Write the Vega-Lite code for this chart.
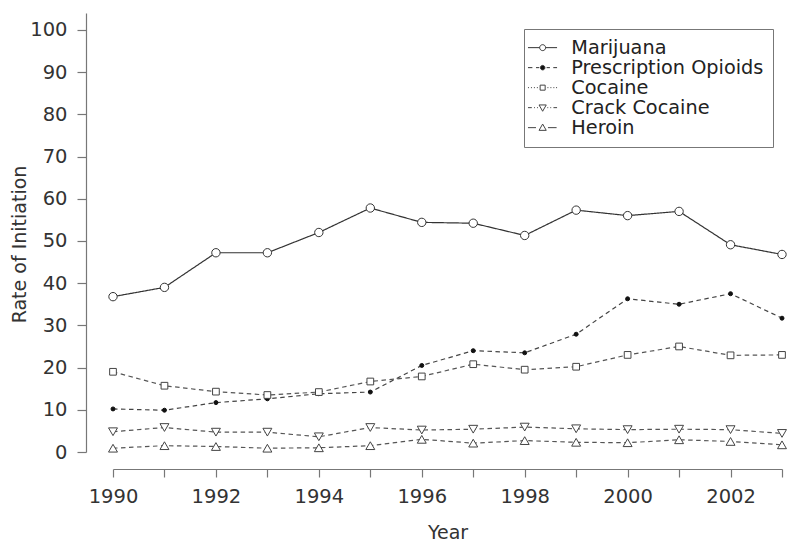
{
  "$schema": "https://vega.github.io/schema/vega-lite/v6.json",
  "width": 669,
  "height": 439,
  "autosize": "none",
  "padding": {"left": 113, "top": 13, "right": 18, "bottom": 103},
  "background": "white",
  "config": {
    "font": "DejaVu Sans",
    "view": {"stroke": null},
    "axis": {
      "grid": false,
      "domainColor": "#777",
      "tickColor": "#777",
      "domainWidth": 1.2,
      "tickWidth": 1.2,
      "labelColor": "#333",
      "titleColor": "#333",
      "labelFont": "DejaVu Sans",
      "titleFont": "DejaVu Sans",
      "labelFontSize": 19.5,
      "titleFontSize": 19,
      "titleFontWeight": "normal"
    }
  },
  "data": {
    "values": [
      {"year": 1990, "drug": "Marijuana", "rate": 36.8},
      {"year": 1991, "drug": "Marijuana", "rate": 39.0},
      {"year": 1992, "drug": "Marijuana", "rate": 47.2},
      {"year": 1993, "drug": "Marijuana", "rate": 47.2},
      {"year": 1994, "drug": "Marijuana", "rate": 52.0},
      {"year": 1995, "drug": "Marijuana", "rate": 57.8},
      {"year": 1996, "drug": "Marijuana", "rate": 54.4},
      {"year": 1997, "drug": "Marijuana", "rate": 54.2},
      {"year": 1998, "drug": "Marijuana", "rate": 51.3},
      {"year": 1999, "drug": "Marijuana", "rate": 57.3},
      {"year": 2000, "drug": "Marijuana", "rate": 56.0},
      {"year": 2001, "drug": "Marijuana", "rate": 57.0},
      {"year": 2002, "drug": "Marijuana", "rate": 49.1},
      {"year": 2003, "drug": "Marijuana", "rate": 46.8},
      {"year": 1990, "drug": "Prescription Opioids", "rate": 10.2},
      {"year": 1991, "drug": "Prescription Opioids", "rate": 9.9},
      {"year": 1992, "drug": "Prescription Opioids", "rate": 11.7},
      {"year": 1993, "drug": "Prescription Opioids", "rate": 12.6},
      {"year": 1994, "drug": "Prescription Opioids", "rate": 13.8},
      {"year": 1995, "drug": "Prescription Opioids", "rate": 14.2},
      {"year": 1996, "drug": "Prescription Opioids", "rate": 20.5},
      {"year": 1997, "drug": "Prescription Opioids", "rate": 24.0},
      {"year": 1998, "drug": "Prescription Opioids", "rate": 23.5},
      {"year": 1999, "drug": "Prescription Opioids", "rate": 27.9},
      {"year": 2000, "drug": "Prescription Opioids", "rate": 36.3},
      {"year": 2001, "drug": "Prescription Opioids", "rate": 35.0},
      {"year": 2002, "drug": "Prescription Opioids", "rate": 37.5},
      {"year": 2003, "drug": "Prescription Opioids", "rate": 31.7},
      {"year": 1990, "drug": "Cocaine", "rate": 19.0},
      {"year": 1991, "drug": "Cocaine", "rate": 15.7},
      {"year": 1992, "drug": "Cocaine", "rate": 14.3},
      {"year": 1993, "drug": "Cocaine", "rate": 13.5},
      {"year": 1994, "drug": "Cocaine", "rate": 14.2},
      {"year": 1995, "drug": "Cocaine", "rate": 16.7},
      {"year": 1996, "drug": "Cocaine", "rate": 17.9},
      {"year": 1997, "drug": "Cocaine", "rate": 20.8},
      {"year": 1998, "drug": "Cocaine", "rate": 19.5},
      {"year": 1999, "drug": "Cocaine", "rate": 20.2},
      {"year": 2000, "drug": "Cocaine", "rate": 23.0},
      {"year": 2001, "drug": "Cocaine", "rate": 25.0},
      {"year": 2002, "drug": "Cocaine", "rate": 22.9},
      {"year": 2003, "drug": "Cocaine", "rate": 23.0},
      {"year": 1990, "drug": "Crack Cocaine", "rate": 4.8},
      {"year": 1991, "drug": "Crack Cocaine", "rate": 5.8},
      {"year": 1992, "drug": "Crack Cocaine", "rate": 4.7},
      {"year": 1993, "drug": "Crack Cocaine", "rate": 4.7},
      {"year": 1994, "drug": "Crack Cocaine", "rate": 3.6},
      {"year": 1995, "drug": "Crack Cocaine", "rate": 5.8},
      {"year": 1996, "drug": "Crack Cocaine", "rate": 5.2},
      {"year": 1997, "drug": "Crack Cocaine", "rate": 5.4},
      {"year": 1998, "drug": "Crack Cocaine", "rate": 5.9},
      {"year": 1999, "drug": "Crack Cocaine", "rate": 5.5},
      {"year": 2000, "drug": "Crack Cocaine", "rate": 5.3},
      {"year": 2001, "drug": "Crack Cocaine", "rate": 5.4},
      {"year": 2002, "drug": "Crack Cocaine", "rate": 5.3},
      {"year": 2003, "drug": "Crack Cocaine", "rate": 4.4},
      {"year": 1990, "drug": "Heroin", "rate": 0.9},
      {"year": 1991, "drug": "Heroin", "rate": 1.5},
      {"year": 1992, "drug": "Heroin", "rate": 1.3},
      {"year": 1993, "drug": "Heroin", "rate": 0.9},
      {"year": 1994, "drug": "Heroin", "rate": 1.0},
      {"year": 1995, "drug": "Heroin", "rate": 1.5},
      {"year": 1996, "drug": "Heroin", "rate": 3.0},
      {"year": 1997, "drug": "Heroin", "rate": 2.1},
      {"year": 1998, "drug": "Heroin", "rate": 2.7},
      {"year": 1999, "drug": "Heroin", "rate": 2.3},
      {"year": 2000, "drug": "Heroin", "rate": 2.2},
      {"year": 2001, "drug": "Heroin", "rate": 2.9},
      {"year": 2002, "drug": "Heroin", "rate": 2.5},
      {"year": 2003, "drug": "Heroin", "rate": 1.7}
    ]
  },
  "encoding": {
    "x": {
      "field": "year",
      "type": "quantitative",
      "title": "Year",
      "scale": {"domain": [1990, 2003], "nice": false, "zero": false},
      "axis": {
        "offset": 17,
        "values": [1990, 1991, 1992, 1993, 1994, 1995, 1996, 1997, 1998, 1999, 2000, 2001, 2002, 2003],
        "format": "d",
        "labelExpr": "datum.value % 2 == 0 ? datum.label : ''",
        "tickSize": 8,
        "labelPadding": 10,
        "titlePadding": 18,
        "labelFlush": false,
        "labelOverlap": false
      }
    },
    "y": {
      "field": "rate",
      "type": "quantitative",
      "title": "Rate of Initiation",
      "scale": {"domain": [0, 104], "nice": false},
      "axis": {
        "offset": 27,
        "values": [0, 10, 20, 30, 40, 50, 60, 70, 80, 90, 100],
        "tickSize": 9,
        "labelPadding": 10,
        "titlePadding": 0,
        "titleY": 231,
        "labelFlush": false,
        "labelOverlap": false
      }
    }
  },
  "layer": [
    {
      "mark": {"type": "line", "strokeWidth": 1.2},
      "encoding": {
        "detail": {"field": "drug"},
        "stroke": {
          "field": "drug",
          "type": "nominal",
          "scale": {
            "domain": ["Heroin", "Crack Cocaine", "Cocaine", "Prescription Opioids", "Marijuana"],
            "range": ["#555555", "#555555", "#555555", "#444444", "#333333"]
          },
          "legend": null
        },
        "strokeDash": {
          "field": "drug",
          "type": "nominal",
          "scale": {
            "domain": ["Heroin", "Crack Cocaine", "Cocaine", "Prescription Opioids", "Marijuana"],
            "range": [[4.5, 3.5], [4.5, 3.5], [4.5, 3.5], [4.5, 3.5], [1, 0]]
          },
          "legend": null
        }
      }
    },
    {
      "mark": {"type": "point", "strokeWidth": 1, "opacity": 1},
      "encoding": {
        "shape": {
          "field": "drug",
          "type": "nominal",
          "scale": {
            "domain": ["Heroin", "Crack Cocaine", "Cocaine", "Prescription Opioids", "Marijuana"],
            "range": ["triangle-up", "triangle-down", "square", "circle", "circle"]
          },
          "legend": null
        },
        "fill": {
          "field": "drug",
          "type": "nominal",
          "scale": {
            "domain": ["Heroin", "Crack Cocaine", "Cocaine", "Prescription Opioids", "Marijuana"],
            "range": ["white", "white", "white", "#111111", "white"]
          },
          "legend": null
        },
        "stroke": {
          "field": "drug",
          "type": "nominal",
          "scale": {
            "domain": ["Heroin", "Crack Cocaine", "Cocaine", "Prescription Opioids", "Marijuana"],
            "range": ["#444444", "#444444", "#444444", "#111111", "#333333"]
          },
          "legend": null
        },
        "size": {
          "field": "drug",
          "type": "nominal",
          "scale": {
            "type": "ordinal",
            "domain": ["Heroin", "Crack Cocaine", "Cocaine", "Prescription Opioids", "Marijuana"],
            "range": [80, 80, 45, 16, 70]
          },
          "legend": null
        }
      }
    },
    {
      "transform": [{"filter": "datum.rate < 0"}],
      "mark": {"type": "point", "filled": false, "strokeWidth": 1, "size": 324, "opacity": 1},
      "encoding": {
        "shape": {
          "field": "drug",
          "type": "nominal",
          "scale": {
            "domain": ["Marijuana", "Prescription Opioids", "Cocaine", "Crack Cocaine", "Heroin"],
            "range": [
              "M-1.63,0H-0.33M0.33,0H1.6M-0.33,0A0.33,0.33,0,1,1,0.33,0A0.33,0.33,0,1,1,-0.33,0Z",
              "M-1.63,0H-1.14M-0.74,0H-0.38M0.44,0H0.81M1.18,0H1.6M-0.25,0A0.25,0.25,0,1,1,0.25,0A0.25,0.25,0,1,1,-0.25,0Z",
              "M-1.63,0H-1.52M-1.3,0H-1.19M-0.97,0H-0.86M-0.64,0H-0.53M0.53,0H0.64M0.86,0H0.97M1.19,0H1.3M1.49,0H1.6M-0.28,-0.28H0.28V0.28H-0.28Z",
              "M-1.63,0H-1.2M-0.95,0H-0.85M-0.62,0H-0.52M0.52,0H0.62M0.85,0H0.95M1.2,0H1.6M-0.4,-0.3H0.4L0,0.4Z",
              "M-1.63,0H-0.74M0.59,0H1.55M-0.4,0.3H0.4L0,-0.4Z"
            ]
          },
          "legend": {
            "title": null,
            "orient": "none",
            "legendX": 411,
            "legendY": 16,
            "padding": 9,
            "rowPadding": 0,
            "strokeColor": "#777",
            "fillColor": "white",
            "symbolSize": 324,
            "symbolStrokeWidth": 1,
            "labelOffset": 19,
            "labelFontSize": 19.3,
            "labelColor": "#222",
            "labelFont": "DejaVu Sans",
            "labelLimit": 400
          }
        },
        "fill": {
          "field": "drug",
          "type": "nominal",
          "scale": {
            "domain": ["Marijuana", "Prescription Opioids", "Cocaine", "Crack Cocaine", "Heroin"],
            "range": ["white", "#111111", "white", "white", "white"]
          },
          "legend": {
            "title": null,
            "orient": "none",
            "legendX": 411,
            "legendY": 16,
            "padding": 9,
            "rowPadding": 0,
            "strokeColor": "#777",
            "fillColor": "white",
            "symbolSize": 324,
            "symbolStrokeWidth": 1,
            "labelOffset": 19,
            "labelFontSize": 19.3,
            "labelColor": "#222",
            "labelFont": "DejaVu Sans",
            "labelLimit": 400
          }
        },
        "stroke": {
          "field": "drug",
          "type": "nominal",
          "scale": {
            "domain": ["Marijuana", "Prescription Opioids", "Cocaine", "Crack Cocaine", "Heroin"],
            "range": ["#333333", "#333333", "#444444", "#444444", "#444444"]
          },
          "legend": {
            "title": null,
            "orient": "none",
            "legendX": 411,
            "legendY": 16,
            "padding": 9,
            "rowPadding": 0,
            "strokeColor": "#777",
            "fillColor": "white",
            "symbolSize": 324,
            "symbolStrokeWidth": 1,
            "labelOffset": 19,
            "labelFontSize": 19.3,
            "labelColor": "#222",
            "labelFont": "DejaVu Sans",
            "labelLimit": 400
          }
        }
      }
    }
  ],
  "resolve": {"scale": {"stroke": "independent", "shape": "independent", "fill": "independent", "size": "independent"}}
}
